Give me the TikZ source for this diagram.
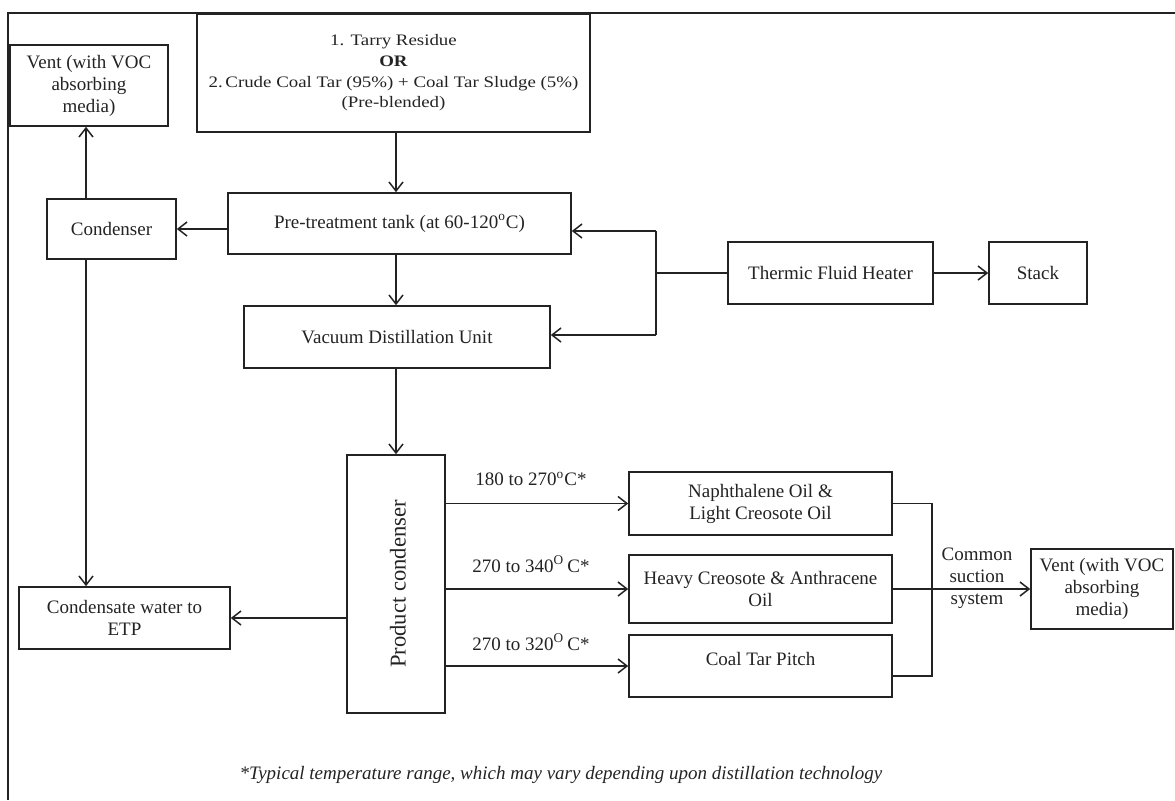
\documentclass[tikz,border=0pt]{standalone}
\usepackage{fontspec}
\setmainfont{Liberation Serif}
\newfontfamily\widefont{Liberation Serif}[FakeStretch=1.18]
\usetikzlibrary{arrows.meta}
\definecolor{ink}{RGB}{35,35,35}
\begin{document}
\begin{tikzpicture}[x=0.5pt,y=-0.5pt,
  box/.style={draw=ink, line width=0.8pt, inner sep=0pt, align=center, text=ink,
    font=\fontsize{9.5pt}{11pt}\selectfont},
  lbl/.style={inner sep=0pt, align=center, text=ink, font=\fontsize{9.5pt}{11pt}\selectfont},
  arr/.style={draw=ink, line width=0.75pt, -{Straight Barb[length=4.5pt,width=7pt]}},
  ln/.style={draw=ink, line width=0.75pt}]
\useasboundingbox (0,0) rectangle (1175,800);
% frame (cut on right and bottom)
\draw[ln] (8,800) -- (8,13) -- (1175,13);
% boxes
\node[box, minimum width=79pt, minimum height=40.5pt] (ventL) at (89,85.5) {Vent (with VOC\\absorbing\\media)};
\node[box, minimum width=196.5pt, minimum height=59pt, font=\widefont\fontsize{8pt}{10.3pt}\selectfont] (input) at (393.5,73)
  {1. Tarry Residue\\\textbf{OR}\\2.\,Crude Coal Tar (95\%) + Coal Tar Sludge (5\%)\\(Pre-blended)};
\node[box, minimum width=64.5pt, minimum height=30pt] (cond) at (111.5,229) {Condenser};
\node[box, minimum width=171.5pt, minimum height=30.5pt] (pre) at (399.5,223.5) {Pre-treatment tank (at 60-120\textsuperscript{o}C)};
\node[box, minimum width=153pt, minimum height=31pt] (vdu) at (397,337) {Vacuum Distillation Unit};
\node[box, minimum width=102.5pt, minimum height=31pt] (tfh) at (830.5,273) {Thermic Fluid Heater};
\node[box, minimum width=49pt, minimum height=31pt] (stack) at (1038,273) {Stack};
\node[box, minimum width=49pt, minimum height=129pt] (pc) at (396,584) {};
\node[lbl, rotate=90, font=\fontsize{11.3pt}{13pt}\selectfont] (pctxt) at (398,584) {Product condenser};
\node[box, minimum width=105.5pt, minimum height=31pt] (cw) at (124.5,618) {Condensate water to\\ETP};
\node[box, minimum width=131.5pt, minimum height=31.5pt] (naph) at (760.5,503.5) {Naphthalene Oil \&\\Light Creosote Oil};
\node[box, minimum width=131.5pt, minimum height=34pt] (heavy) at (760.5,589) {Heavy Creosote \& Anthracene\\Oil};
\node[box, minimum width=131.5pt, minimum height=31pt] (pitch) at (760.5,666) {};
\node[lbl] (pitchtxt) at (760.5,659) {Coal Tar Pitch};
\node[box, minimum width=71pt, minimum height=40pt] (ventR) at (1102,589) {Vent (with VOC\\absorbing\\media)};
% labels
\node[lbl] (t1) at (531,479) {180 to 270\textsuperscript{o}C*};
\node[lbl] (t2) at (531,564) {270 to 340\textsuperscript{O}\,C*};
\node[lbl] (t3) at (531,642) {270 to 320\textsuperscript{O}\,C*};
\node[lbl] (cs) at (977,578.5) {Common\\suction\\system};
\node[lbl, font=\itshape\fontsize{9.5pt}{11pt}\selectfont] (note) at (561,775)
  {*Typical temperature range, which may vary depending upon distillation technology};
% connectors
\coordinate (cx) at (86,0);
\coordinate (j1) at (656,231);
\coordinate (j2) at (656,335);
\coordinate (col) at (932,0);
\draw[arr] (input.south -| pc.center) -- (pre.north -| pc.center);
\draw[arr] (pre.south -| pc.center) -- (vdu.north -| pc.center);
\draw[arr] (vdu.south -| pc.center) -- (pc.north);
\draw[arr] (pre.west |- cond.east) -- (cond.east);
\draw[arr] (cond.north -| cx) -- (ventL.south -| cx);
\draw[arr] (cond.south -| cx) -- (cw.north -| cx);
\draw[arr] (pc.west |- cw.east) -- (cw.east);
\draw[ln] (j1) -- (j2);
\draw[arr] (j1) -- (j1 -| pre.east);
\draw[arr] (j2) -- (j2 -| vdu.east);
\draw[ln] (tfh.west) -- (tfh.west -| j1);
\draw[arr] (tfh.east) -- (stack.west);
\draw[arr] (pc.east |- naph.west) -- (naph.west);
\draw[arr] (pc.east |- heavy.west) -- (heavy.west);
\draw[arr] (pc.east |- pitch.west) -- (pitch.west);
\draw[ln] (naph.east) -- (naph.east -| col) -- ([yshift=-5pt]pitch.east -| col) -- ([yshift=-5pt]pitch.east);
\draw[arr] (heavy.east) -- (ventR.west);
\end{tikzpicture}
\end{document}
